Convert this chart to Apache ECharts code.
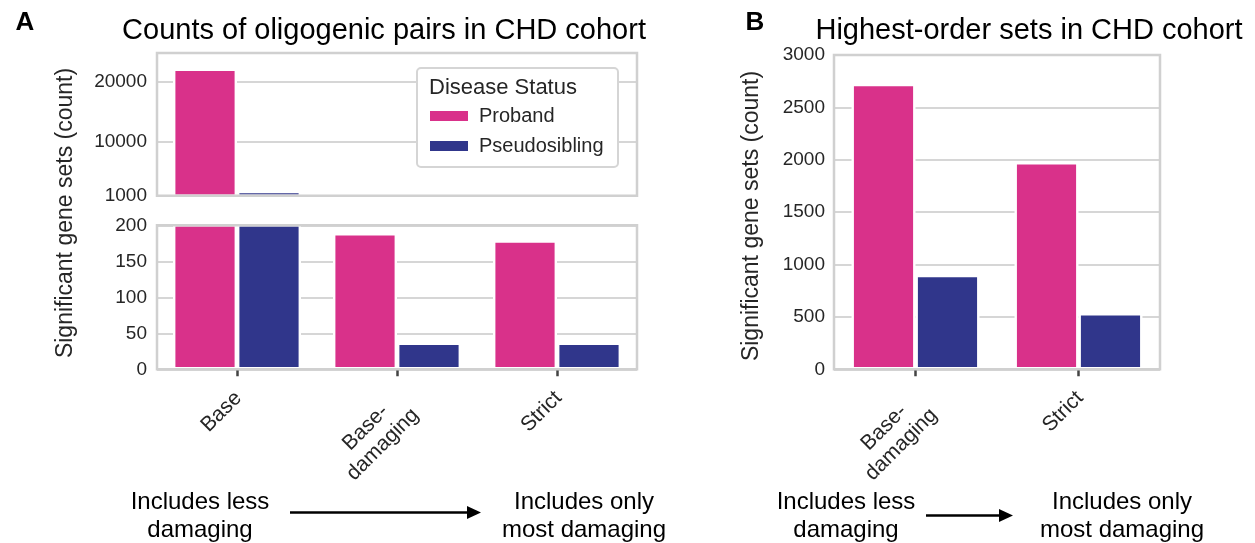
<!DOCTYPE html>
<html><head><meta charset="utf-8">
<script src="https://cdn.jsdelivr.net/npm/echarts@6/dist/echarts.min.js"></script>
<style>html,body{margin:0;padding:0;background:#fff}#c{width:1255px;height:543px}</style>
</head><body><div id="c"></div>
<script>
// ---- data ----
const categoriesA = ['Base', 'Base-\ndamaging', 'Strict'];
const probandA = [22200, 189, 179];
const pseudoA = [1800, 37, 37];
const topTicksA = [1000, 10000, 20000];
const categoriesB = ['Base-\ndamaging', 'Strict'];
const probandB = [2724, 1977];
const pseudoB = [902, 536];
const seriesNames = ['Proband', 'Pseudosibling'];

const FONT = "'Liberation Sans', Arial, sans-serif";
const PINK = '#d9318a';
const NAVY = '#30368b';
const FRAME = '#d0d0d0';
const GRIDC = '#d6d6d6';
const TXT = '#262626';
const XFS = 21;
const XPAD = 10;

const chart = echarts.init(document.getElementById('c'), null, {renderer: 'canvas'});

// centre-align the lines of a multi-line tick label (right-aligned block)
const mctx = document.createElement('canvas').getContext('2d');
mctx.font = XFS + "px 'Liberation Sans'";
const rich = {};
for (let p = 0; p <= 80; p++) {
  rich['p' + p] = {padding: [0, p, 0, 0], fontSize: XFS, lineHeight: 24, color: TXT, fontFamily: FONT};
}
function xFormatter(v) {
  const lines = v.split('\n');
  const ws = lines.map(l => mctx.measureText(l).width);
  const mx = Math.max.apply(null, ws);
  return lines.map((l, i) => '{p' + Math.min(80, XPAD + Math.round((mx - ws[i]) / 2)) + '|' + l + '}').join('\n');
}

function gridOpt(left, top, width, height) {
  return {left, top, width, height, show: true, z: 5, borderColor: FRAME, borderWidth: 2.5, backgroundColor: 'transparent', containLabel: false};
}
const splitLine = {show: true, lineStyle: {color: GRIDC, width: 2}};
const yLabel = {fontSize: 19, color: TXT, fontFamily: FONT, margin: 10, formatter: v => String(v)};
const xTick = {show: true, alignWithLabel: true, length: 7, lineStyle: {color: '#444', width: 2.5}};
const xLabel = {
  show: true, rotate: 45, align: 'right', verticalAlign: 'top',
  fontSize: XFS, lineHeight: 24, color: TXT, fontFamily: FONT, margin: 10, interval: 0,
  formatter: xFormatter, rich: rich
};

function bar(name, data, color, xi, yi, gap) {
  return {
    type: 'bar', name, data, xAxisIndex: xi, yAxisIndex: yi, clip: true,
    barGap: '0%', barCategoryGap: gap, silent: true,
    itemStyle: {color, borderColor: '#fff', borderWidth: 2.4}
  };
}

const annot = (x, y, text) => ({type: 'text', x, y, style: {text, fontSize: 24, lineHeight: 28, fontFamily: FONT, fill: '#000', align: 'center', verticalAlign: 'middle'}});

const option = {
  animation: false,
  backgroundColor: '#fff',
  textStyle: {fontFamily: FONT},
  grid: [
    gridOpt(157, 53, 480, 142.7),
    gridOpt(157, 225.3, 480, 144),
    gridOpt(834, 55, 326, 314.3)
  ],
  xAxis: [
    {gridIndex: 0, type: 'category', data: categoriesA, axisLine: {show: false}, axisTick: {show: false}, axisLabel: {show: false}},
    {gridIndex: 1, type: 'category', data: categoriesA, axisLine: {show: false}, axisTick: xTick, axisLabel: xLabel},
    {gridIndex: 2, type: 'category', data: categoriesB, axisLine: {show: false}, axisTick: xTick, axisLabel: xLabel}
  ],
  yAxis: [
    {gridIndex: 0, type: 'value', min: 1000, max: 24800, axisLine: {show: false},
     axisTick: {show: false, customValues: topTicksA},
     axisLabel: Object.assign({}, yLabel, {customValues: topTicksA}),
     splitLine: splitLine},
    {gridIndex: 1, type: 'value', min: 0, max: 200, interval: 50, axisLine: {show: false}, axisTick: {show: false}, axisLabel: yLabel, splitLine: splitLine},
    {gridIndex: 2, type: 'value', min: 0, max: 3000, interval: 500, axisLine: {show: false}, axisTick: {show: false}, axisLabel: Object.assign({}, yLabel, {margin: 9}), splitLine: splitLine}
  ],
  legend: {
    data: seriesNames, orient: 'vertical', left: 430, top: 106, padding: 0, itemWidth: 38, itemHeight: 10, itemGap: 10,
    icon: 'rect', z: 60, selectedMode: false,
    itemStyle: {borderWidth: 0},
    textStyle: {fontSize: 20, lineHeight: 20, color: TXT, fontFamily: FONT, padding: [0, 0, 0, 6]}
  },
  series: [
    bar(seriesNames[0], probandA, PINK, 0, 0, '20%'),
    bar(seriesNames[1], pseudoA, NAVY, 0, 0, '20%'),
    bar(seriesNames[0], probandA, PINK, 1, 1, '20%'),
    bar(seriesNames[1], pseudoA, NAVY, 1, 1, '20%'),
    bar(seriesNames[0], probandB, PINK, 2, 2, '21.5%'),
    bar(seriesNames[1], pseudoB, NAVY, 2, 2, '21.5%')
  ],
  graphic: [
    // legend frame + title
    {type: 'rect', z: 50, shape: {x: 417, y: 68, width: 201, height: 99, r: 4}, style: {fill: '#fff', stroke: '#d5d5d5', lineWidth: 2}},
    {type: 'text', z: 51, x: 429, y: 88, style: {text: 'Disease Status', fontSize: 22, fontFamily: FONT, fill: TXT, align: 'left', verticalAlign: 'middle'}},
    // panel letters and titles
    {type: 'text', x: 25, y: 23, style: {text: 'A', fontSize: 26, fontWeight: 'bold', fontFamily: FONT, fill: '#000', align: 'center', verticalAlign: 'middle'}},
    {type: 'text', x: 755, y: 23, style: {text: 'B', fontSize: 26, fontWeight: 'bold', fontFamily: FONT, fill: '#000', align: 'center', verticalAlign: 'middle'}},
    {type: 'text', x: 384, y: 31, style: {text: 'Counts of oligogenic pairs in CHD cohort', fontSize: 29, fontFamily: FONT, fill: '#000', align: 'center', verticalAlign: 'middle'}},
    {type: 'text', x: 1029, y: 31, style: {text: 'Highest-order sets in CHD cohort', fontSize: 29, fontFamily: FONT, fill: '#000', align: 'center', verticalAlign: 'middle'}},
    // y axis titles
    {type: 'text', x: 66, y: 213, rotation: Math.PI / 2, style: {text: 'Significant gene sets (count)', fontSize: 23, fontFamily: FONT, fill: TXT, align: 'center', verticalAlign: 'middle'}},
    {type: 'text', x: 752, y: 216, rotation: Math.PI / 2, style: {text: 'Significant gene sets (count)', fontSize: 23, fontFamily: FONT, fill: TXT, align: 'center', verticalAlign: 'middle'}},
    // bottom annotations
    annot(200, 516, 'Includes less\ndamaging'),
    annot(584, 516, 'Includes only\nmost damaging'),
    annot(846, 516, 'Includes less\ndamaging'),
    annot(1122, 516, 'Includes only\nmost damaging'),
    {type: 'line', shape: {x1: 290, y1: 512.5, x2: 470, y2: 512.5}, style: {stroke: '#000', lineWidth: 2.5}},
    {type: 'polygon', shape: {points: [[467, 506], [481, 512.5], [467, 519]]}, style: {fill: '#000'}},
    {type: 'line', shape: {x1: 926, y1: 515.5, x2: 1002, y2: 515.5}, style: {stroke: '#000', lineWidth: 2.5}},
    {type: 'polygon', shape: {points: [[999, 509], [1013, 515.5], [999, 522]]}, style: {fill: '#000'}}
  ]
};
chart.setOption(option);
</script>
</body></html>
